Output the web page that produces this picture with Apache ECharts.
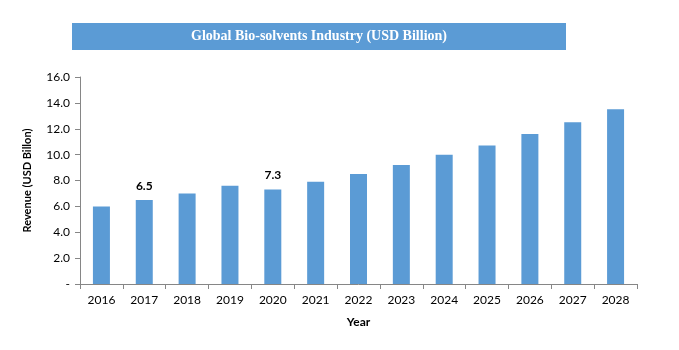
<!DOCTYPE html>
<html><head><meta charset="utf-8">
<script src="https://cdn.jsdelivr.net/npm/echarts@6/dist/echarts.min.js"></script>
<style>html,body{margin:0;padding:0;background:#fff}#c{width:679px;height:350px}</style>
</head><body><div id="c"></div>
<script>
const years = ['2016','2017','2018','2019','2020','2021','2022','2023','2024','2025','2026','2027','2028'];
const revenue = [6.0, 6.5, 7.0, 7.6, 7.3, 7.9, 8.5, 9.2, 10.0, 10.7, 11.6, 12.5, 13.5];
const labeledYears = ['2017','2020'];
const titleText = 'Global Bio-solvents Industry (USD Billion)';

const chart = echarts.init(document.getElementById('c'));
const font = 'Lato, "Open Sans", sans-serif';
chart.setOption({
  animation: false,
  graphic: [{
    type: 'rect', left: 72, top: 23, shape: {width: 494, height: 27},
    style: {fill: '#5B9BD5'}
  }, {
    type: 'text', x: 319, y: 36,
    style: {text: titleText, fill: '#fff', align: 'center', verticalAlign: 'middle',
      font: 'bold 14px "Liberation Serif", "DejaVu Serif", serif'},
    z: 10
  }],
  grid: {left: 80, right: 42, top: 77, bottom: 66},
  xAxis: {
    type: 'category', data: years,
    name: 'Year', nameLocation: 'middle', nameGap: 32,
    nameTextStyle: {fontFamily: font, fontWeight: 'bold', fontSize: 12, color: '#000'},
    axisLine: {lineStyle: {color: '#868686'}},
    axisTick: {show: true, length: 5, alignWithLabel: false, lineStyle: {color: '#868686'}},
    axisLabel: {fontFamily: font, fontSize: 12, color: '#000', margin: 10}
  },
  yAxis: {
    type: 'value', min: 0, max: 16, interval: 2,
    name: 'Revenue (USD Billon)', nameLocation: 'middle', nameGap: 47, nameRotate: 90,
    nameTextStyle: {fontFamily: font, fontWeight: 'bold', fontSize: 11, color: '#000'},
    axisLine: {show: true, lineStyle: {color: '#868686'}},
    axisTick: {show: true, length: 5, lineStyle: {color: '#868686'}},
    splitLine: {show: false},
    axisLabel: {fontFamily: font, fontSize: 12, color: '#000', margin: 10,
      formatter: v => v === 0 ? '-' : v.toFixed(1)}
  },
  series: [{
    type: 'bar', barWidth: 17,
    itemStyle: {color: '#5B9BD5'},
    data: revenue.map((v, i) => ({
      value: v,
      label: {show: labeledYears.includes(years[i]), position: 'top', distance: 8,
        formatter: p => p.value.toFixed(1), fontFamily: font, fontWeight: 'bold', fontSize: 12, color: '#000'}
    }))
  }]
});
</script></body></html>
